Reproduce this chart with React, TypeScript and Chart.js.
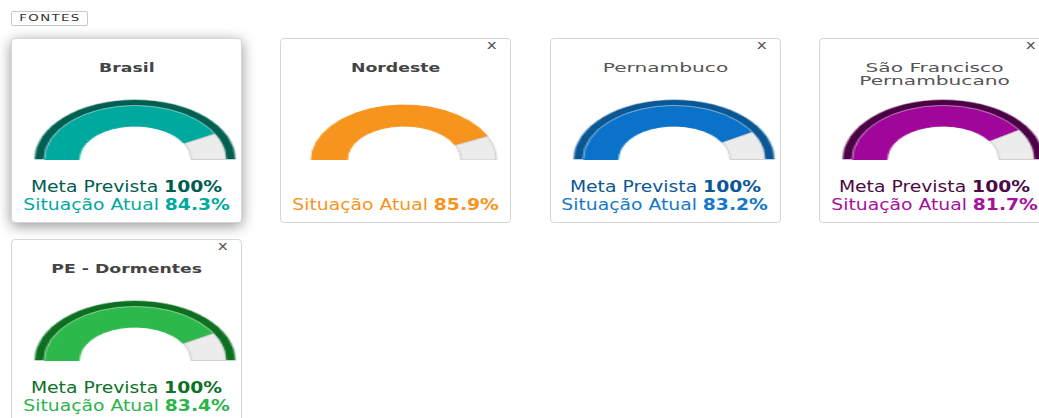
import React, { useEffect, useRef } from "react";
import { Chart, registerables } from "chart.js";

Chart.register(...registerables);

// ---- data ----
const CATEGORIES = ["Brasil", "Nordeste", "Pernambuco", "São Francisco\nPernambucano", "PE - Dormentes"];
const META = [100, null, 100, 100, 100];
const ATUAL = [84.3, 85.9, 83.2, 81.7, 83.4];
const CLOSABLE = [false, true, true, true, true];

// ---- styles ----
const RING_COLORS = ["#005f50", "transparent", "#0a5796", "#4c0046", "#0d7021"];
const FILL_COLORS = ["#00a99d", "#f7941d", "#0a72c8", "#a0069a", "#2db84b"];
const META_TEXT = ["#005c4f", "#f7941d", "#0b5796", "#4b0a45", "#0e7125"];
const ATUAL_TEXT = ["#00a99d", "#f7941d", "#1479c9", "#a5109d", "#2bb44a"];
const TITLE_BOLD = [true, true, false, false, true];
const REST_COLOR = "#ececec";
const REST_BORDER = "#cfcfcf";

const FONT = '"DejaVu Sans", sans-serif';

function Gauge({ meta, atual, ring, fill }: { meta: number | null; atual: number; ring: string; fill: string }) {
  const ref = useRef<HTMLCanvasElement | null>(null);
  useEffect(() => {
    if (!ref.current) return;
    const chart = new Chart(ref.current, {
      type: "doughnut",
      data: {
        labels: ["Atual", "Restante"],
        datasets: [
          {
            data: [meta ?? 100],
            backgroundColor: [ring],
            borderColor: ["rgba(255,255,255,0.45)"],
            borderWidth: meta == null ? 0 : 1,
            weight: 6,
          },
          {
            data: [atual, 100 - atual],
            backgroundColor: [fill, REST_COLOR],
            borderColor: [fill, REST_BORDER],
            borderWidth: 1,
            weight: 21,
          },
        ],
      },
      options: {
        responsive: false,
        animation: false,
        rotation: -90,
        circumference: 180,
        cutout: "55.7%",
        events: [],
        layout: { padding: 0 },
        plugins: { legend: { display: false }, tooltip: { enabled: false } },
      },
    } as any);
    return () => chart.destroy();
  }, [meta, atual, ring, fill]);
  return (
    <canvas
      ref={ref}
      width={122}
      height={61}
      style={{
        position: "absolute",
        left: 62,
        top: 60,
        width: 122,
        height: 61,
        transform: "scaleX(1.68)",
        transformOrigin: "center",
      }}
    />
  );
}

function Line({ top, k, children, style }: any) {
  return (
    <div
      style={{
        position: "absolute",
        left: 0,
        top,
        width: "100%",
        textAlign: "center",
        whiteSpace: "pre",
        ...style,
      }}
    >
      <span style={{ display: "inline-block", transform: `scaleX(${k})`, transformOrigin: "center" }}>{children}</span>
    </div>
  );
}

function Card({ i }: { i: number }) {
  const left = 11 + (i % 4) * 269.3;
  const top = 38 + Math.floor(i / 4) * 201;
  const titleLines = CATEGORIES[i].split("\n");
  const bold = TITLE_BOLD[i];
  return (
    <div
      style={{
        position: "absolute",
        left,
        top,
        width: 231,
        height: 185,
        boxSizing: "border-box",
        border: "1px solid #d6d6d6",
        borderRadius: 4,
        background: "#fff",
        boxShadow: i === 0 ? "0 3px 14px rgba(0,0,0,0.42)" : "none",
        fontFamily: FONT,
      }}
    >
      {CLOSABLE[i] && (
        <div
          style={{
            position: "absolute",
            left: 203,
            top: -2,
            width: 16,
            textAlign: "center",
            fontSize: 13,
            lineHeight: "16px",
            color: "#555",
          }}
        >
          <span style={{ display: "inline-block", transform: "scaleX(1.3)" }}>x</span>
        </div>
      )}
      {titleLines.map((t, j) => (
        <Line
          key={j}
          top={22 + j * 13.3}
          k={bold ? 1.33 : 1.55}
          style={{ fontSize: 13, lineHeight: "13.3px", color: bold ? "#444" : "#555", fontWeight: bold ? "bold" : "normal" }}
        >
          {t}
        </Line>
      ))}
      <Gauge meta={META[i]} atual={ATUAL[i]} ring={RING_COLORS[i]} fill={FILL_COLORS[i]} />
      {META[i] != null && (
        <Line top={140} k={1.25} style={{ fontSize: 15, lineHeight: "17.3px", color: META_TEXT[i] }}>
          Meta Prevista <b>{META[i]}%</b>
        </Line>
      )}
      <Line top={157.5} k={1.25} style={{ fontSize: 15, lineHeight: "17.3px", color: ATUAL_TEXT[i] }}>
        Situação Atual <b>{ATUAL[i].toFixed(1)}%</b>
      </Line>
    </div>
  );
}

export default function App() {
  return (
    <div
      style={{
        position: "fixed",
        left: 0,
        top: 0,
        width: 1039,
        height: 418,
        overflow: "hidden",
        background: "#fff",
        fontFamily: FONT,
      }}
    >
      <div
        style={{
          position: "absolute",
          left: 11,
          top: 11,
          width: 77,
          height: 15,
          boxSizing: "border-box",
          border: "1px solid #c8c8c8",
          borderRadius: 2,
          textAlign: "center",
          fontSize: 9.5,
          lineHeight: "11px",
          color: "#333",
        }}
      >
        <span style={{ display: "inline-block", letterSpacing: 1, transform: "scaleX(1.4)" }}>FONTES</span>
      </div>
      {CATEGORIES.map((_, i) => (
        <Card key={i} i={i} />
      ))}
    </div>
  );
}
